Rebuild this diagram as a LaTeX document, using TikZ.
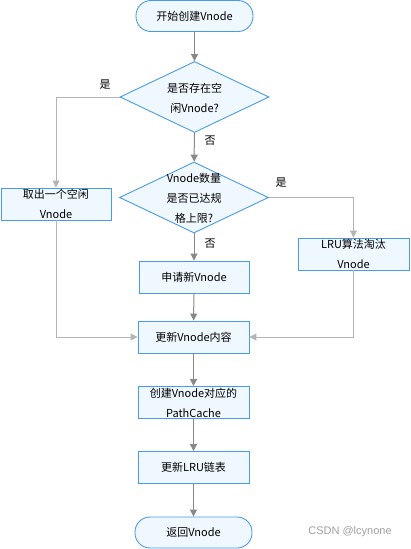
\documentclass[tikz,border=0pt]{standalone}
\usepackage{fontspec}
\newfontfamily\cjk{Noto Sans CJK SC}
\newfontfamily\wm{Liberation Sans}
\usetikzlibrary{shapes.geometric,arrows.meta}
\definecolor{bord}{HTML}{4A9BE6}
\definecolor{fillc}{HTML}{F0F8FF}
\definecolor{edg}{HTML}{888888}
\definecolor{edgl}{HTML}{B4B4B4}
\tikzset{
  x=1pt,y=-1pt,
  txt/.style={font=\cjk\fontsize{11}{20}\selectfont, align=center, inner sep=0pt},
  box/.style={draw=bord, fill=fillc, line width=0.9pt, minimum width=111pt, minimum height=32pt, inner sep=0pt, txt},
  term/.style={box, rounded corners=15pt, minimum width=117pt, minimum height=31pt},
  dia/.style={draw=bord, fill=fillc, line width=0.9pt, diamond, minimum width=149pt, minimum height=71pt, inner sep=0pt},
  arr/.style={draw=edg, line width=1pt, -{Triangle[length=7pt,width=7pt]}},
  arrl/.style={draw=edgl, line width=1pt, -{Triangle[length=7pt,width=7pt]}},
  lab/.style={font=\cjk\fontsize{11}{12}\selectfont, inner sep=0pt},
}
\begin{document}
\begin{tikzpicture}
\useasboundingbox (0,0) rectangle (410,549);
\node[term] (start) at (194.5,16) {开始创建Vnode};
\node[dia] (d1) at (194.5,97) {};
\node[txt] (d1t) at (194.5,98) {是否存在空\\闲Vnode?};
\node[dia] (d2) at (194,197.5) {};
\node[txt] (d2t) at (194,198) {Vnode数量\\是否已达规\\格上限?};
\node[box, minimum width=110pt] (take) at (56,204) {取出一个空闲\\Vnode};
\node[box] (lru) at (353.5,254) {LRU算法淘汰\\Vnode};
\node[box, minimum width=110pt] (new) at (194,277) {申请新Vnode};
\node[box] (upd) at (193.5,337) {更新Vnode内容};
\node[box] (cache) at (193.5,402.5) {创建Vnode对应的\\PathCache};
\node[box] (lrul) at (193.5,467.5) {更新LRU链表};
\node[term] (end) at (193.5,532.5) {返回Vnode};
\node[font=\wm\fontsize{11}{12}\selectfont, text=gray!75, inner sep=0pt] (mark) at (350,532) {CSDN @lcynone};

\draw[arr] (start) -- (d1);
\draw[arr] (d1) -- (d2);
\draw[arrl] (d1.west) -| (take.north);
\draw[arrl] (d2.east) -| (lru.north);
\draw[arr] (d2) -- (new);
\draw[arrl] (take.south) |- (upd.west);
\draw[arrl] (lru.south) |- (upd.east);
\draw[arr] (new) -- (upd);
\draw[arr] (upd) -- (cache);
\draw[arr] (cache) -- (lrul);
\draw[arr] (lrul) -- (end);

\node[lab] (l1) at (105,85) {是};
\node[lab] (l2) at (210,141) {否};
\node[lab] (l3) at (281,183) {是};
\node[lab] (l4) at (210,244) {否};
\end{tikzpicture}
\end{document}
